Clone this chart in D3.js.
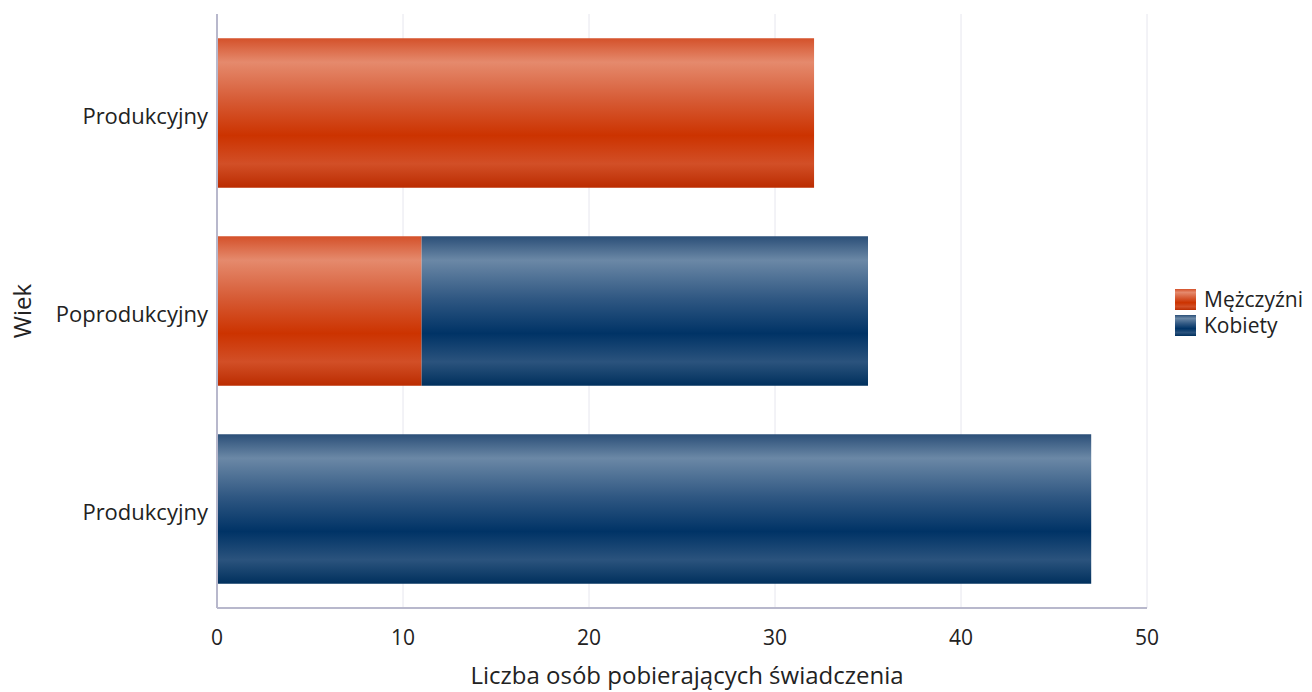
<!DOCTYPE html>
<html>
<head>
<meta charset="utf-8">
<script src="https://cdn.jsdelivr.net/npm/d3@7"></script>
<style>
  body { margin: 0; background: #fff; overflow: hidden; }
  svg { font-family: "Open Sans", "Noto Sans", sans-serif; display: block; }
</style>
</head>
<body>
<svg id="chart"></svg>
<script>
// dane
const categories = ['Produkcyjny', 'Poprodukcyjny', 'Produkcyjny'];
const mezczyzni = [32.1, 11, 0];
const kobiety = [0, 24, 47];
const seriesNames = ['Mężczyźni', 'Kobiety'];
const xTicks = [0, 10, 20, 30, 40, 50];

const width = 1312, height = 692;
const margin = { top: 14, right: 165, bottom: 84, left: 217 };
const innerWidth = width - margin.left - margin.right;
const innerHeight = height - margin.top - margin.bottom;

const svg = d3.select('#chart')
  .attr('width', width)
  .attr('height', height);

// gradienty
const defs = svg.append('defs');
const grads = [
  { id: 'gRed', stops: ['#d4512a', '#e58a6d', '#d65a34', '#cc3300', '#d24f27', '#bb2c00'] },
  { id: 'gBlue', stops: ['#2b4f78', '#6b88a6', '#2f5782', '#003366', '#2b537d', '#00305d'] }
];
const offs = [0, 0.16, 0.42, 0.65, 0.84, 1];
grads.forEach(g => {
  const lg = defs.append('linearGradient')
    .attr('id', g.id)
    .attr('x1', 0).attr('y1', 0).attr('x2', 0).attr('y2', 1);
  g.stops.forEach((c, i) => {
    lg.append('stop').attr('offset', offs[i]).attr('stop-color', c);
  });
});
const fills = ['url(#gRed)', 'url(#gBlue)'];

const rows = categories.map((c, i) => ({ key: i, name: c, 'Mężczyźni': mezczyzni[i], 'Kobiety': kobiety[i] }));
const stacked = d3.stack().keys(seriesNames)(rows);

const x = d3.scaleLinear().domain([0, 50]).range([0, innerWidth]);
const y = d3.scaleBand()
  .domain(rows.map(d => d.key))
  .range([0, innerHeight])
  .paddingInner(0.245)
  .paddingOuter(0.1225);

const g = svg.append('g')
  .attr('transform', `translate(${margin.left},${margin.top})`);

// siatka
g.append('g')
  .selectAll('line')
  .data(xTicks.slice(1))
  .enter()
  .append('line')
  .attr('x1', d => x(d)).attr('x2', d => x(d))
  .attr('y1', 0).attr('y2', innerHeight)
  .attr('stroke', '#e6e6ee')
  .attr('stroke-width', 1);

// słupki
g.selectAll('.series')
  .data(stacked)
  .enter()
  .append('g')
  .attr('fill', (d, i) => fills[i])
  .selectAll('rect')
  .data(d => d.filter(p => p[1] - p[0] > 0))
  .enter()
  .append('rect')
  .attr('x', d => x(d[0]))
  .attr('width', d => x(d[1]) - x(d[0]))
  .attr('y', d => y(d.data.key))
  .attr('height', y.bandwidth());

// osie - linie
g.append('line')
  .attr('x1', 0).attr('x2', innerWidth)
  .attr('y1', innerHeight).attr('y2', innerHeight)
  .attr('stroke', '#b8b8cc').attr('stroke-width', 2);
g.append('line')
  .attr('x1', 0).attr('x2', 0)
  .attr('y1', 0).attr('y2', innerHeight)
  .attr('stroke', '#b8b8cc').attr('stroke-width', 2);

// etykiety osi X
g.selectAll('.xlab')
  .data(xTicks)
  .enter()
  .append('text')
  .attr('class', 'xlab')
  .attr('x', d => x(d))
  .attr('y', innerHeight + 37)
  .attr('text-anchor', 'middle')
  .attr('font-size', 21)
  .attr('fill', '#222')
  .text(d => d);

// etykiety osi Y
g.selectAll('.ylab')
  .data(rows)
  .enter()
  .append('text')
  .attr('class', 'ylab')
  .attr('x', -9)
  .attr('y', d => y(d.key) + y.bandwidth() / 2 + 11)
  .attr('text-anchor', 'end')
  .attr('font-size', 22)
  .attr('fill', '#222')
  .text(d => d.name);

// tytuły osi
svg.append('text')
  .attr('x', 687)
  .attr('y', 684)
  .attr('text-anchor', 'middle')
  .attr('font-size', 24)
  .attr('fill', '#222')
  .text('Liczba osób pobierających świadczenia');

svg.append('text')
  .attr('transform', `translate(31,${margin.top + innerHeight / 2}) rotate(-90)`)
  .attr('text-anchor', 'middle')
  .attr('font-size', 24)
  .attr('fill', '#222')
  .text('Wiek');

// legenda
const legend = svg.append('g').attr('transform', 'translate(1175,289)');
seriesNames.forEach((s, i) => {
  const item = legend.append('g').attr('transform', `translate(0,${i * 26})`);
  item.append('rect').attr('width', 21).attr('height', 21).attr('fill', fills[i]);
  item.append('text').attr('x', 29).attr('y', 18)
    .attr('font-size', 21).attr('fill', '#222').text(s);
});
</script>
</body>
</html>
